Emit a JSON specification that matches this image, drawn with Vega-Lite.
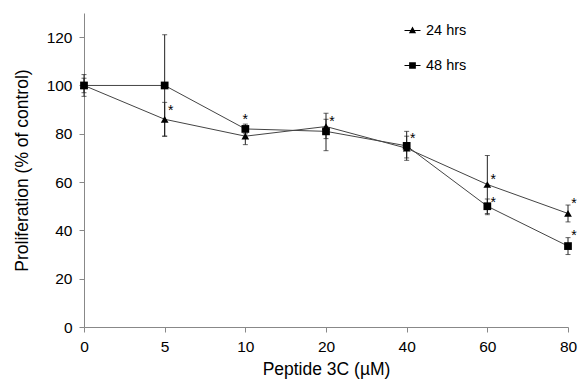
{
  "$schema": "https://vega.github.io/schema/vega-lite/v6.json",
  "width": 484,
  "height": 314,
  "autosize": "none",
  "padding": {"left": 84, "top": 13, "right": 10, "bottom": 56},
  "background": "white",
  "config": {
    "view": {"stroke": null},
    "font": "Liberation Sans",
    "axis": {"labelFont": "Liberation Sans", "titleFont": "Liberation Sans", "labelFontSize": 15.5, "titleFontSize": 17.5, "titleFontWeight": "normal", "labelColor": "#000", "titleColor": "#000", "domainColor": "#888", "tickColor": "#888", "tickSize": 5, "grid": false}
  },
  "datasets": {
    "obs": [
      {"series": "24 hrs", "conc": "0", "mean": 100, "lo": 97, "hi": 103},
      {"series": "24 hrs", "conc": "5", "mean": 86, "lo": 79, "hi": 93},
      {"series": "24 hrs", "conc": "10", "mean": 79, "lo": 75.5, "hi": 82},
      {"series": "24 hrs", "conc": "20", "mean": 83, "lo": 78, "hi": 88.5},
      {"series": "24 hrs", "conc": "40", "mean": 74, "lo": 69, "hi": 81},
      {"series": "24 hrs", "conc": "60", "mean": 59, "lo": 47, "hi": 71},
      {"series": "24 hrs", "conc": "80", "mean": 47, "lo": 43.5, "hi": 50.5},
      {"series": "48 hrs", "conc": "0", "mean": 100, "lo": 95.5, "hi": 104.5},
      {"series": "48 hrs", "conc": "5", "mean": 100, "lo": 79, "hi": 121},
      {"series": "48 hrs", "conc": "10", "mean": 82, "lo": 80, "hi": 84},
      {"series": "48 hrs", "conc": "20", "mean": 81, "lo": 73, "hi": 86},
      {"series": "48 hrs", "conc": "40", "mean": 75, "lo": 70, "hi": 79},
      {"series": "48 hrs", "conc": "60", "mean": 50, "lo": 46.5, "hi": 53},
      {"series": "48 hrs", "conc": "80", "mean": 33.5, "lo": 30, "hi": 37}
    ],
    "stars": [
      {"conc": "5", "y": 89.5},
      {"conc": "10", "y": 85.5},
      {"conc": "20", "y": 85},
      {"conc": "40", "y": 78},
      {"conc": "60", "y": 61},
      {"conc": "60", "y": 51.5},
      {"conc": "80", "y": 51},
      {"conc": "80", "y": 37.5}
    ]
  },
  "resolve": {"scale": {"shape": "independent"}, "legend": {"shape": "independent"}},
  "encoding": {
    "x": {"field": "conc", "type": "ordinal", "sort": ["0", "5", "10", "20", "40", "60", "80"],
      "scale": {"type": "point", "domain": ["0", "5", "10", "20", "40", "60", "80"], "padding": 0},
      "axis": {"title": "Peptide 3C (\u00b5M)", "labelAngle": 0, "labelPadding": 7, "titlePadding": 6}}
  },
  "layer": [
    {
      "data": {"name": "obs"},
      "mark": {"type": "line", "stroke": "#444", "strokeWidth": 1},
      "encoding": {
        "y": {"field": "mean", "type": "quantitative", "scale": {"domain": [0, 130], "nice": false},
          "axis": {"title": "Proliferation (% of control)", "values": [0, 20, 40, 60, 80, 100, 120], "labelPadding": 7, "titlePadding": 15}},
        "detail": {"field": "series"}
      }
    },
    {
      "data": {"name": "obs"},
      "mark": {"type": "rule", "stroke": "#222", "strokeWidth": 1},
      "encoding": {
        "y": {"field": "lo", "type": "quantitative"},
        "y2": {"field": "hi"}
      }
    },
    {
      "data": {"name": "obs"},
      "mark": {"type": "tick", "orient": "horizontal", "size": 5, "thickness": 1, "color": "#222"},
      "encoding": {"y": {"field": "lo", "type": "quantitative"}}
    },
    {
      "data": {"name": "obs"},
      "mark": {"type": "tick", "orient": "horizontal", "size": 5, "thickness": 1, "color": "#222"},
      "encoding": {"y": {"field": "hi", "type": "quantitative"}}
    },
    {
      "data": {"name": "obs"},
      "mark": {"type": "point", "filled": true, "color": "#000", "opacity": 1},
      "encoding": {
        "y": {"field": "mean", "type": "quantitative"},
        "shape": {"field": "series", "type": "nominal",
          "scale": {"domain": ["24 hrs", "48 hrs"], "range": ["triangle-up", "square"]},
          "legend": null},
        "size": {"value": 60}
      }
    },
    {
      "data": {"name": "obs"},
      "mark": {"type": "point", "filled": true, "color": "#000", "opacity": 1},
      "encoding": {
        "y": {"field": "mean", "type": "quantitative"},
        "shape": {"field": "series", "type": "nominal",
          "scale": {"domain": ["24 hrs", "48 hrs"], "range": ["M-1,-0.06L1,-0.06L1,0.06L-1,0.06Z M0,-0.5L0.45,0.35L-0.45,0.35Z", "M-1,-0.06L1,-0.06L1,0.06L-1,0.06Z M-0.42,-0.42L0.42,-0.42L0.42,0.42L-0.42,0.42Z"]},
          "legend": {"title": null, "orient": "none", "legendX": 320, "legendY": 9, "padding": 0,
            "labelFontSize": 14.5, "labelFont": "Liberation Sans", "labelColor": "#000", "labelOffset": 5, "rowPadding": 20, "symbolSize": 256,
            "symbolFillColor": "#000", "symbolStrokeColor": "#000", "symbolStrokeWidth": 0.5, "symbolOpacity": 1}},
        "size": {"value": 0}
      }
    },
    {
      "data": {"name": "stars"},
      "transform": [{"filter": "datum.conc !== '10'"}],
      "mark": {"type": "text", "text": "*", "fontSize": 14, "font": "Liberation Sans", "dx": 6, "baseline": "middle", "color": "#000"},
      "encoding": {"y": {"field": "y", "type": "quantitative"}}
    },
    {
      "data": {"name": "stars"},
      "transform": [{"filter": "datum.conc === '10'"}],
      "mark": {"type": "text", "text": "*", "fontSize": 14, "font": "Liberation Sans", "dx": 0, "baseline": "middle", "color": "#000"},
      "encoding": {"y": {"field": "y", "type": "quantitative"}}
    }
  ]
}
